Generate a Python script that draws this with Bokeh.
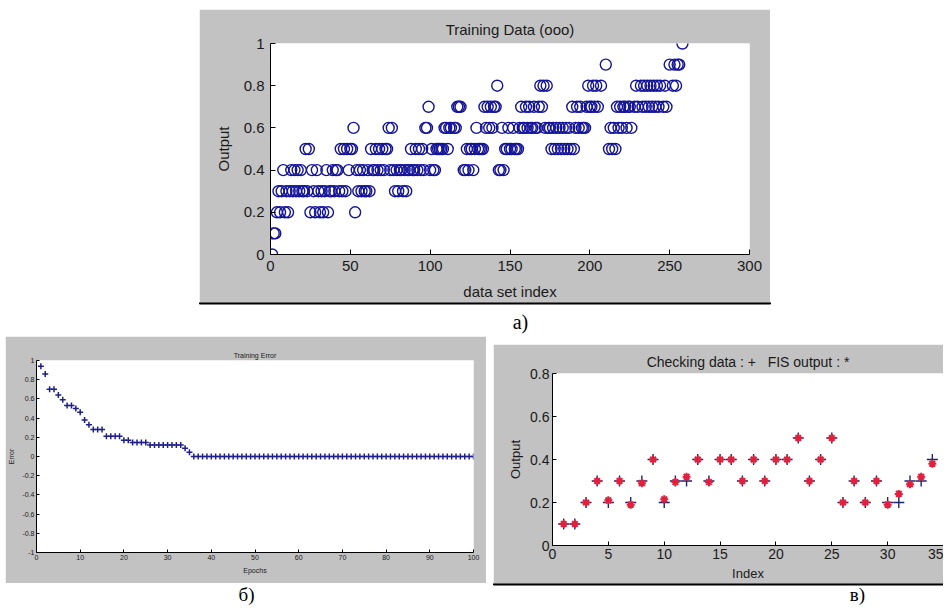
from bokeh.plotting import figure
from bokeh.layouts import column, row
from bokeh.models import Spacer, Range1d, NumeralTickFormatter
from bokeh.core.properties import value
from bokeh.embed import file_html
from bokeh.resources import INLINE

# ---------------- a) Training Data (ooo): data set index of each output level
lvl_00 = [1]
lvl_01 = [2, 3]
lvl_02 = [4, 6, 9, 11, 25, 28, 31, 33, 36, 53]
lvl_03 = [5, 7, 10, 12, 14, 16, 18, 20, 21, 23, 27, 30, 32, 34, 37, 38, 40, 43, 45, 47,
          55, 57, 59, 60, 62, 78, 80, 83, 85]
lvl_04 = [8, 13, 15, 17, 19, 26, 29, 35, 39, 41, 42, 49, 54, 56, 58, 61, 64, 65, 67, 69,
          71, 75, 77, 79, 81, 82, 84, 86, 87, 89, 90, 92, 94, 96, 100, 102, 103, 121, 122,
          124, 127, 143, 144, 146]
lvl_05 = [22, 24, 44, 46, 48, 50, 51, 63, 66, 68, 70, 72, 73, 88, 91, 93, 95, 101, 104,
          105, 106, 107, 108, 111, 123, 125, 126, 128, 130, 131, 132, 133, 147, 148, 150,
          151, 153, 154, 155, 176, 178, 180, 182, 184, 186, 188, 190, 212, 214, 216]
lvl_06 = [52, 74, 76, 97, 98, 109, 110, 112, 113, 115, 116, 129, 135, 137, 139, 145, 149,
          152, 156, 158, 159, 161, 163, 164, 166, 167, 172, 174, 175, 177, 179, 181, 183,
          185, 187, 191, 193, 195, 196, 197, 213, 215, 218, 220, 223, 226]
lvl_07 = [99, 117, 118, 119, 134, 136, 138, 140, 141, 157, 160, 162, 165, 168, 170, 189,
          192, 194, 198, 200, 201, 203, 205, 217, 219, 221, 222, 224, 225, 228, 230, 233,
          235, 237, 239, 241, 243, 246, 248]
lvl_08 = [142, 169, 171, 173, 199, 202, 204, 207, 229, 232, 234, 236, 238, 240, 242, 244,
          247, 252, 254]
lvl_09 = [210, 250, 253, 255, 256]
lvl_10 = [258]
levels = [0.0, 0.1, 0.2, 0.3, 0.4, 0.5, 0.6, 0.7, 0.8, 0.9, 1.0]
level_lists = [lvl_00, lvl_01, lvl_02, lvl_03, lvl_04, lvl_05, lvl_06, lvl_07, lvl_08,
               lvl_09, lvl_10]

# ---------------- б) Training Error per epoch
epochs = list(range(1, 101))
train_error = ([0.94, 0.86, 0.70, 0.70, 0.64, 0.59, 0.53, 0.53, 0.50, 0.46, 0.38, 0.33,
                0.28, 0.28, 0.28, 0.21, 0.21, 0.21, 0.21, 0.17, 0.17, 0.145, 0.145, 0.145,
                0.145, 0.12, 0.12, 0.12, 0.12, 0.12, 0.12, 0.12, 0.12, 0.085, 0.045]
               + [0.0] * 65)

# ---------------- в) Checking data (+) and FIS output (*)
check_index = list(range(1, 35))
check_data = [0.1, 0.1, 0.2, 0.3, 0.2, 0.3, 0.2, 0.3, 0.4, 0.2, 0.3, 0.3, 0.4, 0.3, 0.4,
              0.4, 0.3, 0.4, 0.3, 0.4, 0.4, 0.5, 0.3, 0.4, 0.5, 0.2, 0.3, 0.2, 0.3, 0.2,
              0.2, 0.3, 0.3, 0.4]
fis_output = [0.1, 0.1, 0.2, 0.3, 0.21, 0.3, 0.19, 0.29, 0.4, 0.215, 0.295, 0.32, 0.4,
              0.295, 0.4, 0.4, 0.3, 0.4, 0.3, 0.4, 0.4, 0.5, 0.3, 0.4, 0.5, 0.2, 0.3, 0.2,
              0.3, 0.19, 0.24, 0.285, 0.32, 0.38]

GRAY = "#c2c2c2"
FONT = "Liberation Sans"
SERIF = "Liberation Serif"
TXT = "#1a1a1a"
NB = "\u00a0"


def style(p, tick_size, label_size, title_size, tick_len, y_fmt=True,
          tick_stand=5, label_stand=8, title_stand=2):
    p.grid.visible = False
    p.outline_line_color = None
    p.title.text_font = FONT
    p.title.text_font_size = title_size
    p.title.text_font_style = "normal"
    p.title.text_color = TXT
    p.title.align = "center"
    p.title.standoff = title_stand
    for ax in (p.xaxis, p.yaxis):
        ax.axis_line_color = "black"
        ax.major_tick_line_color = "black"
        ax.major_tick_in = tick_len
        ax.major_tick_out = 0
        ax.minor_tick_line_color = None
        ax.major_label_text_font = FONT
        ax.major_label_text_font_size = tick_size
        ax.major_label_text_color = TXT
        ax.major_label_standoff = tick_stand
        ax.axis_label_text_font = FONT
        ax.axis_label_text_font_size = label_size
        ax.axis_label_text_font_style = "normal"
        ax.axis_label_text_color = TXT
        ax.axis_label_standoff = label_stand
    if y_fmt:
        p.yaxis.formatter = NumeralTickFormatter(format="0.[0]")


# ---- a)
xa, ya = [], []
for lv, idx in zip(levels, level_lists):
    xa += idx
    ya += [lv] * len(idx)

p_a = figure(width=571, height=293, x_range=Range1d(0, 300), y_range=Range1d(0, 1),
             output_backend="svg", toolbar_location=None, title="Training Data (ooo)",
             min_border_left=71, min_border_right=21, min_border_top=34,
             min_border_bottom=46, border_fill_color=GRAY, background_fill_color="white")
p_a.scatter(xa, ya, marker="circle", size=11, fill_color=None, line_color="#14149a",
            line_width=1.4)
style(p_a, "15px", "15px", "15px", 5, tick_stand=6, label_stand=9, title_stand=11)
p_a.xaxis.ticker = [0, 50, 100, 150, 200, 250, 300]
p_a.yaxis.ticker = [0, 0.2, 0.4, 0.6, 0.8, 1]
p_a.xaxis.axis_label = "data set index"
p_a.yaxis.axis_label = "Output"

# ---- б)
p_b = figure(width=481, height=247, x_range=Range1d(0, 100), y_range=Range1d(-1, 1),
             output_backend="svg", toolbar_location=None, title="Training Error",
             min_border_left=29, min_border_right=13, min_border_top=24,
             min_border_bottom=31, border_fill_color=GRAY, background_fill_color="white")
p_b.scatter(epochs, train_error, marker="cross", size=6, line_color="#1e1e8c",
            line_width=1.5)
style(p_b, "7px", "7px", "7px", 3, tick_stand=2, label_stand=4, title_stand=4)
p_b.xaxis.ticker = list(range(0, 101, 10))
p_b.yaxis.ticker = [-1, -0.8, -0.6, -0.4, -0.2, 0, 0.2, 0.4, 0.6, 0.8, 1]
p_b.xaxis.axis_label = "Epochs"
p_b.yaxis.axis_label = "Error"

# ---- в)
p_c = figure(width=450, height=239, x_range=Range1d(0, 35), y_range=Range1d(0, 0.8),
             output_backend="svg", toolbar_location=None,
             title="Checking data : +" + NB * 3 + "FIS output : *",
             min_border_left=59, min_border_right=0, min_border_top=29,
             min_border_bottom=38, border_fill_color=GRAY, background_fill_color="white")
p_c.scatter(check_index, check_data, marker="cross", size=11, line_color="#1c2470",
            line_width=1.4)
p_c.scatter(check_index, fis_output, marker="asterisk", size=8, line_color="#e0203c",
            line_width=2)
style(p_c, "14px", "13px", "14px", 4, tick_stand=3, label_stand=4, title_stand=8)
p_c.xaxis.ticker = list(range(0, 36, 5))
p_c.yaxis.ticker = [0, 0.2, 0.4, 0.6, 0.8]
p_c.xaxis.axis_label = "Index"
p_c.yaxis.axis_label = "Output"


# ---- caption strips
def strip(h):
    s = figure(width=943, height=h, x_range=Range1d(0, 943), y_range=Range1d(h, 0),
               output_backend="svg", toolbar_location=None, x_axis_type=None,
               y_axis_type=None, min_border=0, outline_line_color=None,
               background_fill_color="white", border_fill_color="white")
    s.grid.visible = False
    return s


s_a = strip(34)
s_a.quad(left=[199], right=[770], top=[0], bottom=[1.5], color="black")
s_a.text(x=[520], y=[19], text=["а)"], text_font=value(SERIF), text_font_size="20px",
         text_align="center", text_baseline="middle", text_color="black")

s_bc = strip(24)
s_bc.quad(left=[493], right=[943], top=[0], bottom=[1.5], color="black")
s_bc.text(x=[246, 857], y=[11, 11], text=["б)", "в)"], text_font=value(SERIF),
          text_font_size="19px", text_align="center", text_baseline="middle",
          text_color="black")

layout = column(
    Spacer(width=943, height=9),
    row(Spacer(width=199, height=293), p_a),
    s_a,
    row(Spacer(width=5, height=247), p_b, Spacer(width=7, height=247),
        column(Spacer(width=450, height=8), p_c)),
    s_bc,
)

open("out.html", "w").write(file_html(layout, INLINE))
